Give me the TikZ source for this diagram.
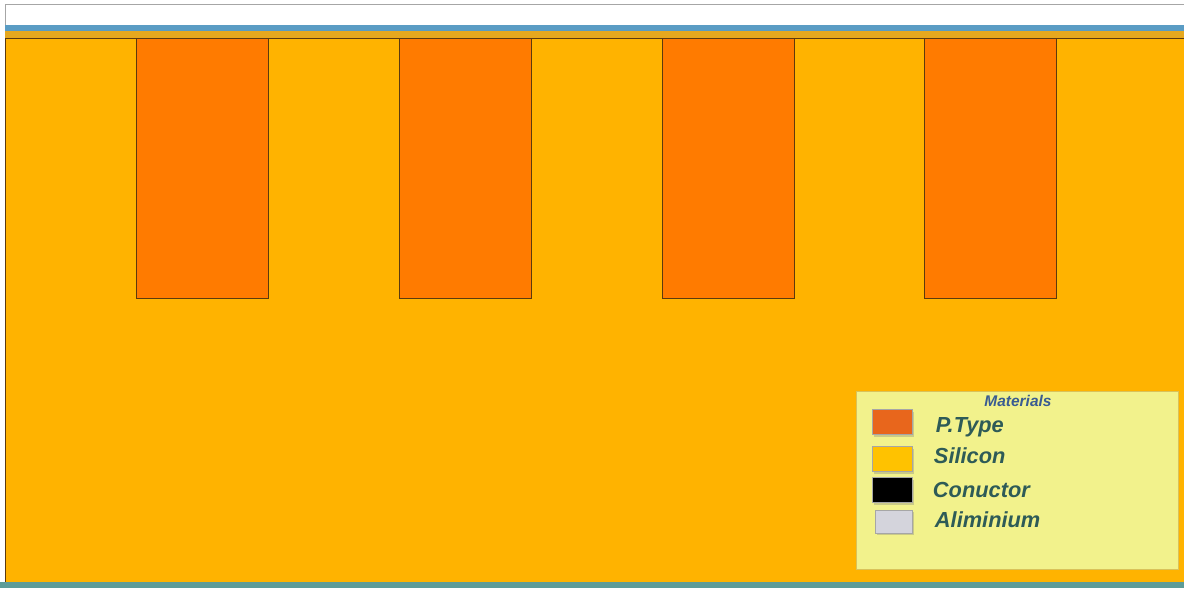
\documentclass[tikz,border=0pt]{standalone}
\usepackage{fontspec}
\setmainfont{Liberation Sans}
\usetikzlibrary{positioning, shadows}
\definecolor{silicon}{HTML}{FFB300}
\definecolor{ptype}{HTML}{FF7B00}
\definecolor{edgebrown}{HTML}{5C3A0E}
\definecolor{topblue}{HTML}{5A9CC4}
\definecolor{topstrip}{HTML}{E6A81E}
\definecolor{baseteal}{HTML}{5E9C98}
\definecolor{legendfill}{HTML}{F2F28C}
\definecolor{legendedge}{HTML}{D9C25A}
\definecolor{legendtext}{HTML}{2E5B57}
\definecolor{titleblue}{HTML}{3A5C92}
\definecolor{swptype}{HTML}{E8661C}
\definecolor{swsilicon}{HTML}{FFC200}
\definecolor{swalu}{HTML}{D4D4DC}
\tikzset{
  ptbox/.style={rectangle, draw=edgebrown, fill=ptype, thick, inner sep=0pt,
                minimum width=3.3cm, minimum height=6.5cm, anchor=north west},
  swatch/.style={rectangle, draw=gray!70, fill=#1, inner sep=0pt,
                 minimum width=1.0cm, minimum height=0.63cm,
                 drop shadow={shadow xshift=1.5pt, shadow yshift=-1.5pt, opacity=0.35}},
  swatch/.default=swptype,
  legtext/.style={font=\fontsize{15.5}{18}\selectfont\bfseries\itshape, text=legendtext,
                  anchor=base west},
}

\begin{document}
\begin{tikzpicture}[x=0.025cm, y=-0.025cm]
  \useasboundingbox (0,0) rectangle (1184,588);
  \fill[white] (0,0) rectangle (1184,588);

  % window strip on top
  \node[rectangle, draw=gray!70, fill=white, inner sep=0pt, anchor=north west,
        minimum width=29.475cm, minimum height=0.525cm] (topbar) at (5,4) {};
  \fill[topblue] (5,25) rectangle (1184,31);
  \fill[topstrip] (5,31) rectangle (1184,38);

  % substrate
  \node[rectangle, draw=edgebrown, fill=silicon, thick, inner sep=0pt, anchor=north west,
        minimum width=29.475cm, minimum height=13.6cm] (substrate) at (5,38) {};
  \fill[baseteal] (0,582) rectangle (1184,588);

  % p-type wells
  \foreach \x/\name in {136/wellA, 399/wellB, 662/wellC, 924/wellD}
    \node[ptbox] (\name) at (\x,38) {};

  % materials legend
  \node[rectangle, draw=legendedge, fill=legendfill, inner sep=0pt, anchor=north west,
        minimum width=8.05cm, minimum height=4.45cm] (legend) at (856,391) {};
  \node[font=\fontsize{11}{12}\selectfont\bfseries\itshape, text=titleblue] (legtitle) at (1018,401) {Materials};

  \node[swatch=swptype] (swP) at (892,422) {};
  \node[swatch=swsilicon] (swS) at (892,459) {};
  \node[swatch=black] (swC) at (892,490) {};
  \node[swatch=swalu, minimum width=0.925cm, minimum height=0.58cm] (swA) at (893.5,521.5) {};

  \node[legtext] (lblP) at (931,432) {P.Type};
  \node[legtext] (lblS) at (929,463) {Silicon};
  \node[legtext] (lblC) at (928,497) {Conuctor};
  \node[legtext] (lblA) at (930,527) {Aliminium};
\end{tikzpicture}
\end{document}
